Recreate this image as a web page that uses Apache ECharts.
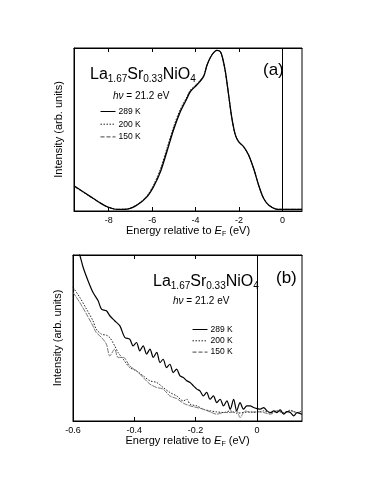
<!DOCTYPE html>
<html>
<head>
<meta charset="utf-8">
<script src="https://cdn.jsdelivr.net/npm/echarts@6.0.0/dist/echarts.min.js"></script>
<style>
  html, body { margin: 0; padding: 0; background: #fff; }
  #chart { width: 382px; height: 494px; }
</style>
</head>
<body>
<div id="chart"></div>
<script>
// legend names
const temps = ['289 K', '200 K', '150 K']

// panel (a): wide energy range
const energyA = [-9.6, -9.2, -8.84, -8.4, -8.07, -7.61, -7.15, -6.69, -6.23, -5.93, -5.62, -5.32, -5.01, -4.70, -4.40, -4.24, -3.94, -3.63, -3.48, -3.32, -3.17, -3.02, -2.86, -2.76, -2.63, -2.48, -2.33, -2.17, -2.02, -1.79, -1.56, -1.33, -1.10, -0.87, -0.64, -0.3, -0.1, 0.3, 0.9]
const a289 = [0.155, 0.12, 0.088, 0.05, 0.026, 0.01, 0.012, 0.037, 0.088, 0.15, 0.24, 0.365, 0.50, 0.61, 0.69, 0.733, 0.774, 0.826, 0.893, 0.942, 0.972, 0.986, 0.978, 0.94, 0.856, 0.713, 0.57, 0.467, 0.426, 0.395, 0.344, 0.262, 0.16, 0.078, 0.037, 0.012, 0.01, 0.01, 0.01]
const a200 = [0.15, 0.118, 0.087, 0.05, 0.025, 0.01, 0.013, 0.04, 0.095, 0.162, 0.258, 0.385, 0.518, 0.625, 0.70, 0.742, 0.78, 0.828, 0.893, 0.941, 0.971, 0.985, 0.977, 0.938, 0.854, 0.711, 0.568, 0.466, 0.425, 0.394, 0.343, 0.261, 0.159, 0.077, 0.037, 0.012, 0.01, 0.01, 0.01]
const a150 = [0.152, 0.119, 0.087, 0.05, 0.025, 0.01, 0.012, 0.038, 0.092, 0.157, 0.25, 0.376, 0.51, 0.618, 0.695, 0.738, 0.777, 0.827, 0.893, 0.942, 0.972, 0.986, 0.978, 0.939, 0.855, 0.712, 0.569, 0.467, 0.426, 0.395, 0.344, 0.262, 0.16, 0.078, 0.037, 0.012, 0.01, 0.01, 0.01]
const ticksA = [-8, -6, -4, -2, 0]

// panel (b): near the Fermi level
const e289 = [-0.6, -0.578, -0.567, -0.551, -0.535, -0.518, -0.507, -0.491, -0.480, -0.464, -0.447, -0.431, -0.415, -0.404, -0.393, -0.382, -0.371, -0.360, -0.349, -0.338, -0.327, -0.316, -0.306, -0.295, -0.284, -0.273, -0.262, -0.251, -0.240, -0.229, -0.218, -0.207, -0.196, -0.186, -0.175, -0.164, -0.153, -0.142, -0.131, -0.120, -0.109, -0.098, -0.087, -0.076, -0.066, -0.055, -0.044, -0.033, -0.022, -0.011, 0, 0.011, 0.022, 0.033, 0.044, 0.055, 0.065, 0.076, 0.087, 0.098, 0.109, 0.120, 0.131, 0.147]
const b289 = [1.12, 1.0, 0.926, 0.845, 0.775, 0.724, 0.674, 0.664, 0.634, 0.604, 0.573, 0.503, 0.493, 0.453, 0.473, 0.423, 0.453, 0.403, 0.433, 0.383, 0.413, 0.352, 0.372, 0.322, 0.342, 0.292, 0.312, 0.272, 0.262, 0.242, 0.232, 0.212, 0.192, 0.182, 0.151, 0.172, 0.131, 0.151, 0.111, 0.131, 0.091, 0.121, 0.071, 0.131, 0.061, 0.111, 0.071, 0.091, 0.091, 0.081, 0.075, 0.071, 0.081, 0.061, 0.051, 0.061, 0.051, 0.067, 0.041, 0.057, 0.051, 0.031, 0.051, 0.041]
const e200 = [-0.6, -0.578, -0.556, -0.535, -0.524, -0.507, -0.491, -0.480, -0.464, -0.453, -0.436, -0.415, -0.393, -0.371, -0.349, -0.327, -0.306, -0.284, -0.262, -0.240, -0.229, -0.218, -0.196, -0.175, -0.153, -0.131, -0.109, -0.087, -0.066, -0.044, -0.022, 0, 0.022, 0.044, 0.065, 0.087, 0.109, 0.131, 0.147]
const b200 = [0.805, 0.745, 0.674, 0.604, 0.553, 0.523, 0.517, 0.503, 0.453, 0.413, 0.372, 0.322, 0.302, 0.272, 0.242, 0.232, 0.202, 0.172, 0.151, 0.121, 0.131, 0.101, 0.091, 0.071, 0.061, 0.055, 0.051, 0.061, 0.047, 0.051, 0.055, 0.051, 0.061, 0.047, 0.061, 0.051, 0.065, 0.051, 0.061]
const e150 = [-0.6, -0.578, -0.556, -0.535, -0.524, -0.507, -0.491, -0.480, -0.464, -0.453, -0.436, -0.415, -0.393, -0.371, -0.349, -0.327, -0.306, -0.284, -0.262, -0.240, -0.218, -0.196, -0.175, -0.153, -0.131, -0.109, -0.087, -0.066, -0.055, -0.038, -0.022, 0, 0.022, 0.044, 0.065, 0.087, 0.109, 0.131, 0.147]
const b150 = [0.775, 0.714, 0.644, 0.573, 0.533, 0.503, 0.463, 0.392, 0.433, 0.383, 0.383, 0.332, 0.302, 0.262, 0.222, 0.202, 0.192, 0.151, 0.135, 0.107, 0.091, 0.081, 0.071, 0.055, 0.041, 0.051, 0.051, 0.061, 0.021, 0.061, 0.051, 0.057, 0.051, 0.041, 0.061, 0.047, 0.061, 0.051, 0.057]
const ticksB = [-0.6, -0.4, -0.2, 0]

const FONT = 'Liberation Sans, Arial, sans-serif'
const zip = (xs, ys) => xs.map((x, i) => [x, ys[i]])

const chart = echarts.init(document.getElementById('chart'), null, { renderer: 'canvas' })

const formulaRich = {
  m: { fontSize: 16, fontWeight: 'normal', fontFamily: FONT, color: '#000' },
  s: { fontSize: 10, fontWeight: 'normal', fontFamily: FONT, color: '#000', padding: [9, 0, 0, 0] }
}
const hvStyle = {
  fontSize: 10, fontWeight: 'normal', fontFamily: FONT, color: '#000',
  rich: { i: { fontSize: 10, fontWeight: 'normal', fontStyle: 'italic', fontFamily: FONT, color: '#000' } }
}
const axisName = 'Energy relative to {e|E}{f|F} (eV)'
const axisNameStyle = {
  fontSize: 11, fontFamily: FONT, color: '#000',
  rich: {
    e: { fontSize: 11, fontStyle: 'italic', fontFamily: FONT, color: '#000' },
    f: { fontSize: 7, fontFamily: FONT, color: '#000', padding: [5, 0, 0, 0] }
  }
}

function xAxisFor (grid, min, max, ticks) {
  return [
    {
      gridIndex: grid, type: 'value', min: min, max: max, position: 'bottom',
      axisLine: { show: true, onZero: false, lineStyle: { color: '#000', width: 1 } },
      axisTick: { show: true, inside: true, length: 4, customValues: ticks, lineStyle: { color: '#000' } },
      axisLabel: { customValues: ticks, fontSize: 9, margin: 5, color: '#000', fontFamily: FONT },
      splitLine: { show: false },
      name: axisName, nameLocation: 'middle', nameGap: 13, nameTextStyle: axisNameStyle
    },
    {
      gridIndex: grid, type: 'value', min: min, max: max, position: 'top',
      axisLine: { show: true, onZero: false, lineStyle: { color: '#000', width: 1 } },
      axisTick: { show: true, inside: true, length: 4, customValues: ticks, lineStyle: { color: '#000' } },
      axisLabel: { show: false },
      splitLine: { show: false }
    }
  ]
}

function yAxisFor (grid) {
  return {
    gridIndex: grid, type: 'value', min: 0, max: 1,
    axisLine: { show: true, onZero: false, lineStyle: { color: '#000' } },
    axisTick: { show: false }, axisLabel: { show: false }, splitLine: { show: false },
    name: 'Intensity (arb. units)', nameLocation: 'middle', nameGap: 10,
    nameTextStyle: { fontSize: 11, fontFamily: FONT, color: '#000' }
  }
}

const zeroLine = {
  symbol: 'none', silent: true, label: { show: false },
  lineStyle: { color: '#000', type: 'solid', width: 1 },
  data: [{ xAxis: 0 }]
}

function lineSeries (name, xi, yi, data, lineStyle, withZero) {
  const s = {
    name: name, type: 'line', xAxisIndex: xi, yAxisIndex: yi, data: data,
    symbol: 'none', showSymbol: false, clip: true, smooth: 0.3,
    itemStyle: { color: lineStyle.color },
    lineStyle: lineStyle, z: name === '289 K' ? 3 : 2
  }
  if (withZero) s.markLine = zeroLine
  return s
}

function legendAt (left, top, gap) {
  return {
    orient: 'vertical', left: left, top: top, data: temps, selectedMode: false,
    itemWidth: 15, itemHeight: 6, itemGap: gap,
    itemStyle: { opacity: 0 },
    lineStyle: { width: 1 },
    textStyle: { fontSize: 8.5, fontFamily: FONT, color: '#000', lineHeight: 6, padding: [0, 0, 0, -2] }
  }
}

const option = {
  animation: false,
  backgroundColor: '#fff',
  grid: [
    { left: 74, top: 48, width: 228, height: 163, show: true, borderColor: '#000', borderWidth: 1 },
    { left: 73, top: 255, width: 229, height: 166, show: true, borderColor: '#000', borderWidth: 1 }
  ],
  xAxis: [].concat(xAxisFor(0, -9.6, 0.9, ticksA), xAxisFor(1, -0.6, 0.147, ticksB)),
  yAxis: [yAxisFor(0), yAxisFor(1)],
  title: [
    { text: '{m|La}{s|1.67}{m|Sr}{s|0.33}{m|NiO}{s|4}', left: 85, top: 60, textStyle: { fontWeight: 'normal', rich: formulaRich } },
    { text: '{i|hν} = 21.2 eV', left: 108, top: 86, textStyle: hvStyle },
    { text: '(a)', left: 258, top: 57, textStyle: { fontSize: 17, fontWeight: 'normal', fontFamily: FONT, color: '#000' } },
    { text: '{m|La}{s|1.67}{m|Sr}{s|0.33}{m|NiO}{s|4}', left: 148, top: 267, textStyle: { fontWeight: 'normal', rich: formulaRich } },
    { text: '{i|hν} = 21.2 eV', left: 168, top: 291, textStyle: hvStyle },
    { text: '(b)', left: 271, top: 265, textStyle: { fontSize: 17, fontWeight: 'normal', fontFamily: FONT, color: '#000' } }
  ],
  legend: [legendAt(95, 102, 3.7), legendAt(187, 320, 2.3)],
  series: [
    lineSeries('289 K', 0, 0, zip(energyA, a289), { color: '#000', width: 1.3 }, true),
    lineSeries('200 K', 0, 0, zip(energyA, a200), { color: '#222', width: 1, type: [1.5, 1.5] }, false),
    lineSeries('150 K', 0, 0, zip(energyA, a150), { color: '#444', width: 0.8, type: [4, 2] }, false),
    lineSeries('289 K', 2, 1, zip(e289, b289), { color: '#000', width: 1.2 }, true),
    lineSeries('200 K', 2, 1, zip(e200, b200), { color: '#222', width: 1, type: [1.5, 1.5] }, false),
    lineSeries('150 K', 2, 1, zip(e150, b150), { color: '#777', width: 1, type: [5, 1] }, false)
  ]
}
chart.setOption(option)
</script>
</body>
</html>
